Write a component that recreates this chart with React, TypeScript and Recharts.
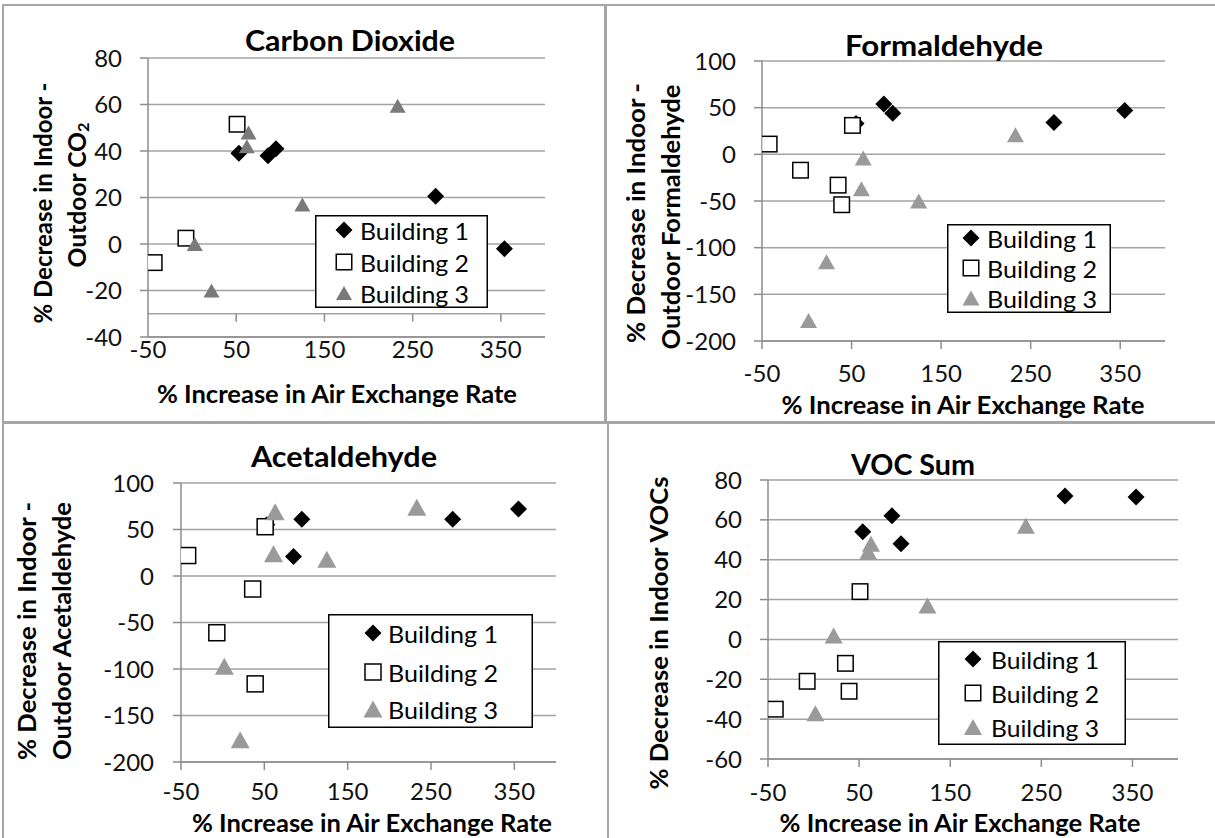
import React from 'react';
import { ScatterChart, Scatter, XAxis, YAxis, CartesianGrid, ReferenceLine, Legend } from 'recharts';

// ---------- data ----------
const xTicks = [-50, 50, 150, 250, 350];
const seriesNames = ['Building 1', 'Building 2', 'Building 3'];

// Carbon Dioxide
const co2B1 = [{ x: 53, y: 39 }, { x: 86, y: 38 }, { x: 95, y: 41 }, { x: 276, y: 20.5 }, { x: 354, y: -2 }];
const co2B2 = [{ x: 51, y: 51.5 }, { x: -7, y: 2.5 }, { x: -43, y: -8 }];
const co2B3 = [{ x: 64, y: 48 }, { x: 62, y: 42 }, { x: 125, y: 17 }, { x: 233, y: 59.5 }, { x: 3, y: 0 }, { x: 22, y: -20 }];
const co2YTicks = [-40, -20, 0, 20, 40, 60, 80];

// Formaldehyde
const formB1 = [{ x: 55, y: 33 }, { x: 86, y: 54 }, { x: 96, y: 44 }, { x: 276, y: 34 }, { x: 355, y: 47 }];
const formB2 = [{ x: -42, y: 11 }, { x: -7, y: -17 }, { x: 35, y: -33 }, { x: 39, y: -54 }, { x: 51, y: 31 }];
const formB3 = [{ x: 63, y: -4 }, { x: 61, y: -37 }, { x: 125, y: -50 }, { x: 233, y: 21 }, { x: 22, y: -115 }, { x: 2, y: -178 }];
const formYTicks = [-200, -150, -100, -50, 0, 50, 100];

// Acetaldehyde
const acetB1 = [{ x: 53, y: 55 }, { x: 95, y: 61 }, { x: 85, y: 21 }, { x: 276, y: 61 }, { x: 355, y: 72 }];
const acetB2 = [{ x: -42, y: 22 }, { x: -7, y: -61 }, { x: 36, y: -14 }, { x: 39, y: -116 }, { x: 51, y: 53 }];
const acetB3 = [{ x: 63, y: 69 }, { x: 61, y: 24 }, { x: 125, y: 18 }, { x: 233, y: 74 }, { x: 2, y: -97 }, { x: 21, y: -176 }];
const acetYTicks = [-200, -150, -100, -50, 0, 50, 100];

// VOC Sum
const vocB1 = [{ x: 54, y: 54 }, { x: 86, y: 62 }, { x: 96, y: 48 }, { x: 276, y: 72 }, { x: 354, y: 71.5 }];
const vocB2 = [{ x: -42, y: -35 }, { x: -7, y: -21 }, { x: 35, y: -12 }, { x: 39, y: -26 }, { x: 51, y: 24 }];
const vocB3 = [{ x: 63, y: 48 }, { x: 60, y: 44 }, { x: 125, y: 17 }, { x: 233, y: 57 }, { x: 22, y: 2 }, { x: 2, y: -37 }];
const vocYTicks = [-60, -40, -20, 0, 20, 40, 60, 80];

// ---------- styling ----------
const FONT = "Lato, 'Open Sans', sans-serif";
const GRID = '#a3a3a3';
const AXIS = '#8c8c8c';

type MarkerSpec = { r: number; sq: number; tw: number; th: number; tri: string };

const diamondPath = (cx: number, cy: number, r: number) => `M${cx},${cy - r}L${cx + r},${cy}L${cx},${cy + r}L${cx - r},${cy}Z`;
const trianglePath = (cx: number, cy: number, w: number, h: number) =>
  `M${cx},${cy - h / 2}L${cx + w / 2},${cy + h / 2}L${cx - w / 2},${cy + h / 2}Z`;

const markerEl = (i: number, cx: number, cy: number, m: MarkerSpec) => {
  if (i === 0) return <path d={diamondPath(cx, cy, m.r)} fill="#000" />;
  if (i === 1) return <rect x={cx - m.sq / 2} y={cy - m.sq / 2} width={m.sq} height={m.sq} fill="#fff" stroke="#000" strokeWidth={1.5} />;
  return <path d={trianglePath(cx, cy, m.tw, m.th)} fill={m.tri} />;
};
const shapeFor = (i: number, m: MarkerSpec) => (p: any) => markerEl(i, p.cx, p.cy, m);

type LegendSpec = { left: number; top: number; width: number; height: number; rows: number[]; iconX: number; textX: number; textLen: number };

const makeLegend = (lg: LegendSpec, m: MarkerSpec) => (props: any) => {
  const payload = props.payload || [];
  return (
    <svg width={lg.width} height={lg.height} style={{ display: 'block' }}>
      <rect x={0.75} y={0.75} width={lg.width - 1.5} height={lg.height - 1.5} fill="#fff" stroke="#000" strokeWidth={1.5} />
      {payload.map((entry: any, i: number) => (
        <g key={i}>
          {markerEl(i, lg.iconX, lg.rows[i], m)}
          <text
            x={lg.textX}
            y={lg.rows[i]}
            dominantBaseline="central"
            textLength={lg.textLen}
            lengthAdjust="spacingAndGlyphs"
            style={{ fontFamily: FONT, fontSize: 24, fill: '#000' }}
          >
            {entry.value}
          </text>
        </g>
      ))}
    </svg>
  );
};

type PanelProps = {
  left: number; top: number; width: number; height: number;
  margin: { top: number; right: number; bottom: number; left: number };
  yDomain: [number, number]; yTicks: number[];
  b1: any[]; b2: any[]; b3: any[];
  marker: MarkerSpec;
  legend: LegendSpec;
  xTickSize: number; xTickMargin: number; yTickMargin: number;
  crossAt?: number;
};

const Panel = (p: PanelProps) => {
  const tickStyle = { fontSize: 24, fill: '#111', fontFamily: FONT };
  const crossed = p.crossAt !== undefined;
  return (
    <div style={{ position: 'absolute', left: p.left, top: p.top, width: p.width, height: p.height }}>
      <ScatterChart width={p.width} height={p.height} margin={p.margin}>
        <CartesianGrid vertical={false} stroke={GRID} strokeWidth={1.5} />
        <XAxis
          type="number"
          dataKey="x"
          domain={[-50, 400]}
          ticks={xTicks}
          interval={0}
          height={40}
          tickSize={crossed ? 0 : p.xTickSize}
          tickMargin={p.xTickMargin}
          axisLine={{ stroke: AXIS, strokeWidth: 1.5 }}
          tickLine={crossed ? false : { stroke: AXIS, strokeWidth: 1.5 }}
          tick={tickStyle}
          allowDataOverflow
        />
        <YAxis
          type="number"
          dataKey="y"
          domain={p.yDomain}
          ticks={p.yTicks}
          interval={0}
          width={60}
          tickSize={8}
          tickMargin={p.yTickMargin}
          axisLine={{ stroke: AXIS, strokeWidth: 1.5 }}
          tickLine={{ stroke: AXIS, strokeWidth: 1.5 }}
          tick={tickStyle}
          allowDataOverflow
        />
        {crossed && <ReferenceLine y={p.crossAt} stroke={GRID} strokeWidth={1.5} />}
        {crossed &&
          xTicks.slice(1).map((t) => (
            <ReferenceLine
              key={t}
              segment={[{ x: t, y: p.crossAt as number }, { x: t, y: (p.crossAt as number) - 3.4 }]}
              stroke={AXIS}
              strokeWidth={1.5}
            />
          ))}
        <Scatter name={seriesNames[0]} data={p.b1} shape={shapeFor(0, p.marker)} isAnimationActive={false} />
        <Scatter name={seriesNames[1]} data={p.b2} shape={shapeFor(1, p.marker)} isAnimationActive={false} />
        <Scatter name={seriesNames[2]} data={p.b3} shape={shapeFor(2, p.marker)} isAnimationActive={false} />
        <Legend
          layout="horizontal"
          verticalAlign="middle"
          align="center"
          content={makeLegend(p.legend, p.marker)}
          wrapperStyle={{ position: 'absolute', left: p.legend.left, top: p.legend.top, width: p.legend.width, height: p.legend.height }}
        />
      </ScatterChart>
    </div>
  );
};

const titleStyle: any = { fontFamily: FONT, fontWeight: 700, fontSize: 29, fill: '#000' };
const labelStyle: any = { fontFamily: FONT, fontWeight: 700, fontSize: 24, fill: '#000' };

const Title = ({ x, y, len, children }: any) => (
  <text x={x} y={y} textAnchor="middle" dominantBaseline="central" textLength={len} lengthAdjust="spacingAndGlyphs" style={titleStyle}>
    {children}
  </text>
);
const XLabel = ({ x, y, len, children }: any) => (
  <text x={x} y={y} textAnchor="middle" dominantBaseline="central" textLength={len} lengthAdjust="spacingAndGlyphs" style={labelStyle}>
    {children}
  </text>
);
const YLabel = ({ x, y, len, children }: any) => (
  <text
    transform={`translate(${x},${y}) rotate(-90)`}
    textAnchor="middle"
    dominantBaseline="central"
    textLength={len}
    lengthAdjust="spacingAndGlyphs"
    style={labelStyle}
  >
    {children}
  </text>
);

export default function App() {
  return (
    <div style={{ position: 'absolute', left: 0, top: 0, width: 1215, height: 838, background: '#fff', overflow: 'hidden' }}>
      {/* panel borders */}
      <div style={{ position: 'absolute', left: 2, top: 4, width: 604, height: 419, border: '2px solid #a6a6a6', boxSizing: 'border-box' }} />
      <div style={{ position: 'absolute', left: 605, top: 4, width: 620, height: 419, border: '2px solid #a6a6a6', boxSizing: 'border-box' }} />
      <div style={{ position: 'absolute', left: 2, top: 422, width: 607, height: 430, border: '2px solid #a6a6a6', boxSizing: 'border-box' }} />
      <div style={{ position: 'absolute', left: 607, top: 422, width: 620, height: 430, border: '2px solid #a6a6a6', boxSizing: 'border-box' }} />

      <Panel
        left={0} top={0} width={607} height={423}
        margin={{ top: 58, right: 62, bottom: 46, left: 88 }}
        yDomain={[-40, 80]} yTicks={co2YTicks}
        b1={co2B1} b2={co2B2} b3={co2B3}
        marker={{ r: 8.5, sq: 15.5, tw: 16, th: 14, tri: '#7a7a7a' }}
        legend={{ left: 315, top: 215, width: 173, height: 93, rows: [15, 47, 78], iconX: 29, textX: 45, textLen: 109 }}
        xTickSize={0} xTickMargin={4} yTickMargin={18}
        crossAt={-30}
      />
      <Panel
        left={607} top={0} width={608} height={423}
        margin={{ top: 61, right: 50, bottom: 42, left: 95 }}
        yDomain={[-200, 100]} yTicks={formYTicks}
        b1={formB1} b2={formB2} b3={formB3}
        marker={{ r: 8.5, sq: 15.5, tw: 17, th: 15, tri: '#9a9a9a' }}
        legend={{ left: 340, top: 224, width: 164, height: 89, rows: [14, 44, 74], iconX: 24, textX: 40, textLen: 110 }}
        xTickSize={8} xTickMargin={16} yTickMargin={18}
      />
      <Panel
        left={0} top={423} width={607} height={415}
        margin={{ top: 60, right: 51, bottom: 36, left: 121 }}
        yDomain={[-200, 100]} yTicks={acetYTicks}
        b1={acetB1} b2={acetB2} b3={acetB3}
        marker={{ r: 8.5, sq: 16, tw: 19, th: 17, tri: '#9a9a9a' }}
        legend={{ left: 328, top: 191, width: 205, height: 114, rows: [19, 58, 95], iconX: 45, textX: 60, textLen: 110 }}
        xTickSize={8} xTickMargin={13} yTickMargin={19}
      />
      <Panel
        left={607} top={423} width={608} height={415}
        margin={{ top: 57, right: 37, bottom: 39, left: 101 }}
        yDomain={[-60, 80]} yTicks={vocYTicks}
        b1={vocB1} b2={vocB2} b3={vocB3}
        marker={{ r: 8.5, sq: 15.5, tw: 18, th: 16, tri: '#9a9a9a' }}
        legend={{ left: 331, top: 218, width: 188, height: 104, rows: [18, 52, 86], iconX: 35, textX: 53, textLen: 108 }}
        xTickSize={8} xTickMargin={17} yTickMargin={18}
      />

      <svg width={1215} height={838} style={{ position: 'absolute', left: 0, top: 0, pointerEvents: 'none' }}>
        <Title x={350} y={39} len={210}>Carbon Dioxide</Title>
        <Title x={944} y={44} len={198}>Formaldehyde</Title>
        <Title x={344} y={455} len={186}>Acetaldehyde</Title>
        <Title x={913} y={463} len={124}>VOC Sum</Title>

        <YLabel x={42} y={203} len={241}>% Decrease in Indoor -</YLabel>
        <YLabel x={76} y={195} len={145}>
          Outdoor CO<tspan style={{ fontSize: 16 }} dy={6}>2</tspan>
        </YLabel>
        <YLabel x={635} y={213} len={260}>% Decrease in Indoor -</YLabel>
        <YLabel x={670} y={217} len={265}>Outdoor Formaldehyde</YLabel>
        <YLabel x={26} y={631} len={258}>% Decrease in Indoor -</YLabel>
        <YLabel x={61} y={631} len={258}>Outdoor Acetaldehyde</YLabel>
        <YLabel x={658} y={633} len={313}>% Decrease in Indoor  VOCs</YLabel>

        <XLabel x={337} y={393} len={360}>% Increase in Air Exchange Rate</XLabel>
        <XLabel x={963} y={404} len={363}>% Increase in Air Exchange Rate</XLabel>
        <XLabel x={372} y={822} len={360}>% Increase in Air Exchange Rate</XLabel>
        <XLabel x={960} y={822} len={361}>% Increase in Air Exchange Rate</XLabel>
      </svg>
    </div>
  );
}
